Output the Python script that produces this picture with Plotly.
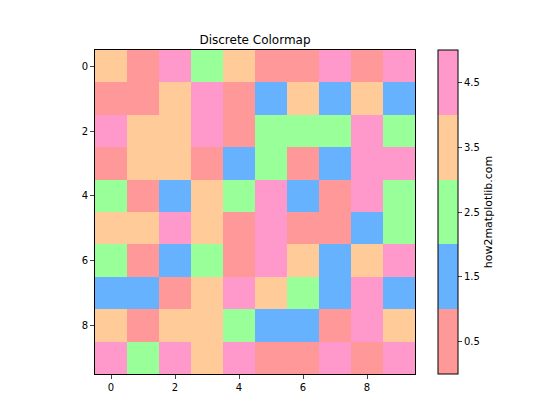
import plotly.graph_objects as go

# 0=red, 1=blue, 2=green, 3=peach, 4=pink
grid = [
    [3, 0, 4, 2, 3, 0, 0, 4, 0, 4],
    [0, 0, 3, 4, 0, 1, 3, 1, 3, 1],
    [4, 3, 3, 4, 0, 2, 2, 2, 4, 2],
    [0, 3, 3, 0, 1, 2, 0, 1, 4, 4],
    [2, 0, 1, 3, 2, 4, 1, 0, 4, 2],
    [3, 3, 4, 3, 0, 4, 0, 0, 1, 2],
    [2, 0, 1, 2, 0, 4, 3, 1, 3, 4],
    [1, 1, 0, 3, 4, 3, 2, 1, 4, 1],
    [3, 0, 3, 3, 2, 1, 1, 0, 4, 3],
    [4, 2, 4, 3, 4, 0, 0, 4, 0, 4],
]
colors = ["#FF9999", "#66B2FF", "#99FF99", "#FFCC99", "#FF99CC"]
cb_ticks = [0.5, 1.5, 2.5, 3.5, 4.5]

n = len(colors)
scale = []
for i, c in enumerate(colors):
    scale.append([i / n, c])
    scale.append([(i + 1) / n, c])

fig = go.Figure(go.Heatmap(
    z=grid, colorscale=scale, zmin=0, zmax=n,
    colorbar=dict(
        tickvals=cb_ticks, ticktext=[str(t) for t in cb_ticks],
        thickness=20, len=1, lenmode="fraction", x=1.072, xanchor="left", xpad=0, ypad=0,
        outlinecolor="black", outlinewidth=1, ticks="outside", ticklen=4,
        title=dict(text="how2matplotlib.com", side="right", font=dict(size=11)),
        tickfont=dict(size=10),
    ),
))
# page body has an 8px margin, so shift everything up-left by 8px
fig.update_layout(
    width=560, height=420,
    margin=dict(l=87, r=153, t=42, b=54, autoexpand=False),
    paper_bgcolor="white", plot_bgcolor="white",
    font=dict(family="DejaVu Sans", size=10, color="black"),
    title=dict(text="Discrete Colormap", x=0.5, xref="paper", y=0.915, yanchor="bottom", font=dict(size=12)),
)
fig.update_xaxes(range=[-0.5, 9.5], tickvals=[0, 2, 4, 6, 8], ticks="outside", ticklen=4,
                 showline=True, linecolor="black", mirror=True, showgrid=False, zeroline=False)
fig.update_yaxes(range=[9.5, -0.5], tickvals=[0, 2, 4, 6, 8], ticks="outside", ticklen=4,
                 showline=True, linecolor="black", mirror=True, showgrid=False, zeroline=False)
fig.write_html("out.html")
